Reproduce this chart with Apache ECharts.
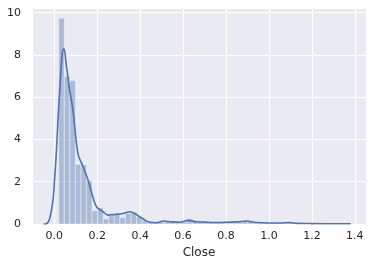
<!DOCTYPE html>
<html><head><meta charset="utf-8">
<script src="https://cdn.jsdelivr.net/npm/echarts@6/dist/echarts.min.js"></script>
<style>html,body{margin:0;padding:0;background:#fff}#c{width:372px;height:268px}</style>
</head><body><div id="c"></div>
<script>
// Histogram (density) of Close: bins
const binStart = 0.0205;
const binWidth = 0.0259;
const density = [9.73, 6.98, 6.79, 2.82, 2.80, 2.04, 0.63, 0.77, 0.24, 0.39,
  0.50, 0.30, 0.50, 0.55, 0.35, 0.16, 0.10, 0.05, 0.10, 0.15,
  0.08, 0.05, 0.10, 0.25, 0.15, 0.10, 0.10, 0.05, 0.05, 0.10,
  0.05, 0.05, 0.10, 0.15, 0.15, 0.05, 0.05, 0.05, 0.05, 0.05,
  0.03, 0.10, 0.05, 0.02, 0.02, 0.02, 0.00, 0.02, 0.02, 0.02];
// KDE curve
const kdeX = [-0.050, -0.038, -0.030, -0.021, -0.006, 0.002, 0.010, 0.017, 0.028, 0.038, 0.045,
  0.056, 0.072, 0.087, 0.110, 0.134, 0.157, 0.180, 0.198, 0.227, 0.250, 0.282,
  0.320, 0.352, 0.375, 0.398, 0.421, 0.445, 0.476, 0.507, 0.545, 0.585, 0.624,
  0.662, 0.700, 0.740, 0.800, 0.850, 0.896, 0.940, 1.004, 1.050, 1.097, 1.130,
  1.200, 1.300, 1.381];
const kdeY = [0.0, 0.01, 0.07, 0.27, 1.13, 2.23, 3.5, 4.9, 6.8, 8.2, 8.29,
  7.5, 6.3, 5.38, 3.33, 2.7, 2.08, 1.25, 0.79, 0.58, 0.42, 0.45,
  0.50, 0.58, 0.50, 0.34, 0.19, 0.08, 0.06, 0.14, 0.10, 0.08, 0.17,
  0.11, 0.09, 0.07, 0.08, 0.10, 0.14, 0.07, 0.05, 0.05, 0.07, 0.03,
  0.02, 0.01, 0.01];
const xLabel = 'Close';

const bars = density.map((d, i) => [binStart + i * binWidth, binStart + (i + 1) * binWidth, d]);
const kde = kdeX.map((x, i) => [x, kdeY[i]]);

const txt = '#262626';
const font = 'DejaVu Sans';
const chart = echarts.init(document.getElementById('c'), null, {renderer: 'canvas'});
chart.setOption({
  animation: false,
  backgroundColor: '#ffffff',
  grid: {left: 32, right: 6, top: 8, bottom: 44, show: true, backgroundColor: '#EAEAF2', borderWidth: 0},
  xAxis: {
    type: 'value', min: -0.104, max: 1.452, splitNumber: 8,
    name: xLabel, nameLocation: 'middle', nameGap: 22,
    nameTextStyle: {color: txt, fontFamily: font, fontSize: 12},
    axisLine: {show: false}, axisTick: {show: false},
    axisLabel: {color: txt, fontFamily: font, fontSize: 11, margin: 7,
      showMinLabel: false, showMaxLabel: false,
      formatter: v => v.toFixed(1)},
    splitLine: {show: true, lineStyle: {color: '#ffffff', width: 1}}
  },
  yAxis: {
    type: 'value', min: 0, max: 10.22, interval: 2,
    axisLine: {show: false}, axisTick: {show: false},
    axisLabel: {color: txt, fontFamily: font, fontSize: 11, margin: 11, showMaxLabel: false},
    splitLine: {show: true, lineStyle: {color: '#ffffff', width: 1}}
  },
  series: [
    {
      type: 'custom',
      data: bars,
      renderItem: function (params, api) {
        const p0 = api.coord([api.value(0), api.value(2)]);
        const p1 = api.coord([api.value(1), 0]);
        return {
          type: 'rect',
          shape: {x: p0[0], y: p0[1], width: p1[0] - p0[0], height: p1[1] - p0[1]},
          style: {fill: 'rgba(76,114,176,0.4)', stroke: 'rgba(255,255,255,0.4)', lineWidth: 1}
        };
      }
    },
    {
      type: 'line', data: kde, showSymbol: false, smooth: 0.3,
      lineStyle: {color: '#4C72B0', width: 1.6}, z: 5
    }
  ]
});
</script></body></html>
